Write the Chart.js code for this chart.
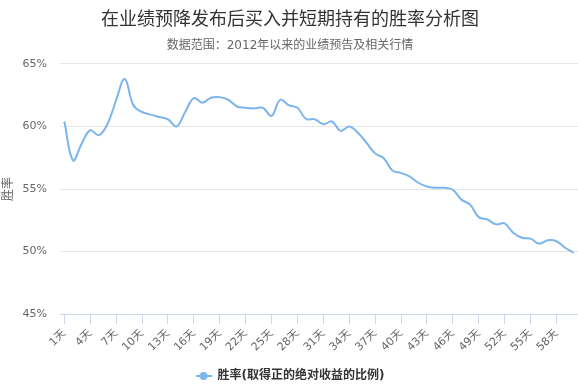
<!DOCTYPE html>
<html>
<head>
<meta charset="utf-8">
<script src="https://cdn.jsdelivr.net/npm/chart.js@4.4.1/dist/chart.umd.min.js"></script>
<style>
  html, body { margin: 0; padding: 0; background: #fff; }
  #wrap { width: 578px; height: 385px; }
</style>
</head>
<body>
<div id="wrap"><canvas id="grafica"></canvas></div>
<script>
// ===== 数据 =====
const dias = [
  "1天","2天","3天","4天","5天","6天","7天","8天","9天","10天",
  "11天","12天","13天","14天","15天","16天","17天","18天","19天","20天",
  "21天","22天","23天","24天","25天","26天","27天","28天","29天","30天",
  "31天","32天","33天","34天","35天","36天","37天","38天","39天","40天",
  "41天","42天","43天","44天","45天","46天","47天","48天","49天","50天",
  "51天","52天","53天","54天","55天","56天","57天","58天","59天","60天"
];

const etiquetasEje = [
  "1天","4天","7天","10天","13天","16天","19天","22天","25天","28天",
  "31天","34天","37天","40天","43天","46天","49天","52天","55天","58天"
];

const shenglv = [
  60.4, 57.3, 58.6, 59.7, 59.3, 60.2, 62.1, 63.8, 61.7, 61.16,
  60.95, 60.76, 60.58, 60.0, 61.16, 62.27, 61.9, 62.3, 62.35, 62.14,
  61.6, 61.5, 61.45, 61.5, 60.85, 62.14, 61.7, 61.5, 60.6, 60.58,
  60.18, 60.4, 59.65, 60.0, 59.5, 58.7, 57.85, 57.46, 56.48, 56.27,
  56.0, 55.5, 55.2, 55.1, 55.1, 54.94, 54.15, 53.75, 52.75, 52.56,
  52.17, 52.25, 51.5, 51.1, 51.03, 50.63, 50.9, 50.82, 50.3, 49.9
];

const yTicks = [45, 50, 55, 60, 65];

// ===== 样式 =====
const fuente = '"Lucida Grande", "DejaVu Sans", "Noto Sans CJK SC", sans-serif';
const azul = "#7cb5ec";

// 图例符号：线 + 圆点
const simbolo = document.createElement("canvas");
simbolo.width = 16;
simbolo.height = 10;
(function () {
  const c = simbolo.getContext("2d");
  c.strokeStyle = azul;
  c.lineWidth = 2;
  c.beginPath();
  c.moveTo(0, 5);
  c.lineTo(16, 5);
  c.stroke();
  c.fillStyle = azul;
  c.beginPath();
  c.arc(8, 5, 4, 0, Math.PI * 2);
  c.fill();
})();

// ===== 图表 =====
new Chart(document.getElementById("grafica"), {
  type: "line",
  data: {
    labels: dias,
    datasets: [{
      label: "胜率(取得正的绝对收益的比例)",
      data: shenglv,
      borderColor: azul,
      backgroundColor: azul,
      borderWidth: 2,
      tension: 0.4,
      pointRadius: 0,
      pointHoverRadius: 0,
      pointStyle: simbolo,
      fill: false
    }]
  },
  options: {
    responsive: true,
    maintainAspectRatio: false,
    animation: false,
    layout: { padding: { left: 2, right: 0, top: 0, bottom: -7 } },
    plugins: {
      title: {
        display: true,
        text: "在业绩预降发布后买入并短期持有的胜率分析图",
        color: "#333333",
        font: { family: fuente, size: 18, weight: "normal" },
        padding: { top: 10, bottom: 7 }
      },
      subtitle: {
        display: true,
        text: "数据范围：2012年以来的业绩预告及相关行情",
        color: "#666666",
        font: { family: fuente, size: 12, weight: "normal" },
        padding: { bottom: 11 }
      },
      legend: {
        position: "bottom",
        labels: {
          usePointStyle: true,
          pointStyleWidth: 16,
          boxHeight: 10,
          color: "#333333",
          font: { family: fuente, size: 12, weight: "bold" },
          padding: 4
        }
      },
      tooltip: { enabled: false }
    },
    scales: {
      x: {
        offset: true,
        border: { color: "#ccd6eb" },
        grid: {
          offset: false,
          drawOnChartArea: false,
          tickLength: 10,
          color: ctx => etiquetasEje.includes(dias[ctx.index]) ? "#ccd6eb" : "rgba(0,0,0,0)"
        },
        ticks: {
          autoSkip: false,
          maxRotation: 45,
          minRotation: 45,
          color: "#666666",
          font: { family: fuente, size: 11 },
          callback: (v, i) => etiquetasEje.includes(dias[i]) ? dias[i] : ""
        },
        afterFit: axis => {
          axis.paddingRight = 0;
          axis.height = 52;
        }
      },
      y: {
        min: 45,
        max: 65,
        afterBuildTicks: axis => { axis.ticks = yTicks.map(v => ({ value: v })); },
        afterFit: axis => { axis.width = 58; },
        border: { display: false },
        grid: { color: "#e6e6e6", drawTicks: false },
        ticks: {
          color: "#666666",
          font: { family: fuente, size: 11 },
          padding: 13,
          callback: v => v + "%"
        },
        title: {
          display: true,
          text: "胜率",
          color: "#666666",
          font: { family: fuente, size: 12 },
          padding: { top: 0, bottom: 0 }
        }
      }
    }
  }
});
</script>
</body>
</html>
